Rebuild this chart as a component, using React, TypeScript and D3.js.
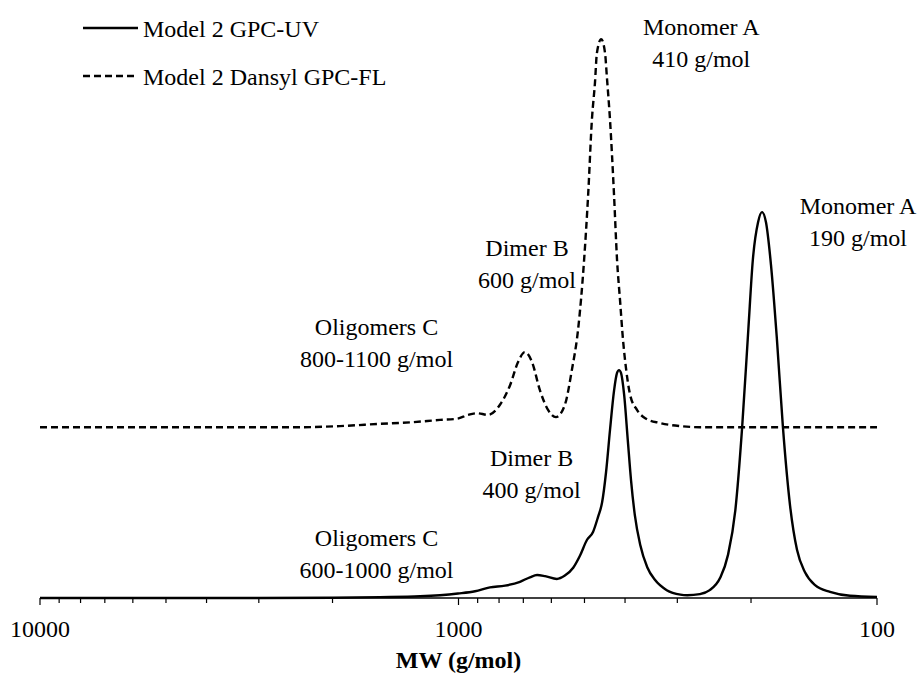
import * as d3 from "d3";

// GPC traces: molecular weight (g/mol) and relative signal
const uvMW = [
  10000, 5000, 3000, 2000, 1540, 1236, 1107, 1003, 913, 841, 774, 713, 675, 649, 621, 582, 557, 532,
  513, 493, 477, 464, 454, 444, 434.5, 425, 418, 413.5, 409, 402, 394, 387, 379, 368, 354, 339, 318,
  295, 284, 265, 251, 237, 227, 218, 210, 203, 198, 192.4, 188.3, 184.2, 179.2, 173.4, 167.8, 161.4,
  155.3, 148.6, 140.6, 129.5, 116, 100,
];
const uvSignal = [
  0, 0, 0, 0.05, 0.15, 0.3, 0.5, 0.8, 1.2, 1.9, 2.2, 2.9, 3.7, 4.1, 3.9, 3.4, 4.0, 5.4,
  7.5, 10.4, 11.8, 14.5, 17, 22.5, 30, 37, 40.2, 40.7, 40.2, 36.3, 28.2, 21, 14.8, 9.5, 5.5, 3.2, 1.4,
  0.6, 0.5, 0.7, 1.4, 3.6, 7.7, 15.7, 30.5, 47.9, 60.4, 67.1, 68.9, 67.1, 59.5, 46.1, 30.5, 16.6,
  8.6, 4.6, 2.3, 1.1, 0.4, 0.2,
];

const flMW = [
  10000, 5000, 2391, 1920, 1540, 1284, 1107, 1008, 949, 903, 850, 796, 753, 721, 694, 667, 639, 611,
  585, 557, 536, 518, 501, 490, 480, 472, 467, 456, 446.5, 442, 434.5, 425, 418, 411, 404.5, 400, 389,
  374.6, 358, 330, 296, 265, 100,
];
const flSignal = [
  30.5, 30.5, 30.5, 30.7, 31.1, 31.4, 31.8, 32.0, 32.7, 33.0, 32.7, 34.5, 38.0, 42.1, 43.9, 42.1, 37.1, 33.6,
  32.3, 34.5, 40.7, 47.9, 60.4, 72, 85.4, 92, 97.3, 99.8, 97.3, 93, 85.4, 72, 60.4, 53, 46.1, 42.5, 36.3,
  33.6, 32.1, 31.25, 30.7, 30.5, 30.5,
];

const tickLabels = [10000, 1000, 100];
const legendLabels = ["Model 2 GPC-UV", "Model 2 Dansyl GPC-FL"];

// annotation text with the MW it sits over and its signal height
const notes = [
  { mw: 263, sig: 100.5, lines: ["Monomer A", "410 g/mol"] },
  { mw: 111, sig: 68.5, lines: ["Monomer A", "190 g/mol"] },
  { mw: 686, sig: 61, lines: ["Dimer B", "600 g/mol"] },
  { mw: 1570, sig: 47, lines: ["Oligomers C", "800-1100 g/mol"] },
  { mw: 669, sig: 23.5, lines: ["Dimer B", "400 g/mol"] },
  { mw: 1570, sig: 9.3, lines: ["Oligomers C", "600-1000 g/mol"] },
];

const W = 923;
const H = 677;
const font = "'Liberation Serif', 'Times New Roman', serif";

export default function App() {
  const x = d3.scaleLog().domain([10000, 100]).range([40, 877]);
  const y = d3.scaleLinear().domain([0, 100]).range([598, 38]);

  const uv = uvMW.map((m, i) => ({ m, s: uvSignal[i] }));
  const fl = flMW.map((m, i) => ({ m, s: flSignal[i] }));

  const line = d3
    .line<{ m: number; s: number }>()
    .curve(d3.curveMonotoneX)
    .x((d) => x(d.m))
    .y((d) => y(d.s));

  const ticks = x.ticks();
  const y0 = y(0);

  return (
    <svg
      width={W}
      height={H}
      style={{ position: "absolute", left: 0, top: 0, background: "#fff" }}
      fontFamily={font}
    >
      <path d={line(fl) ?? ""} fill="none" stroke="#000" strokeWidth={2.4} strokeDasharray="7,4" />
      <path d={line(uv) ?? ""} fill="none" stroke="#000" strokeWidth={2.4} />

      {/* x axis */}
      <line x1={x(10000)} x2={x(100)} y1={y0} y2={y0} stroke="#000" strokeWidth={1.5} />
      {ticks.map((t) => {
        const major = tickLabels.includes(t);
        return (
          <line
            key={t}
            x1={x(t)}
            x2={x(t)}
            y1={y0}
            y2={y0 + (major ? 7 : 5)}
            stroke="#000"
            strokeWidth={1.2}
          />
        );
      })}
      {tickLabels.map((t) => (
        <text key={t} x={x(t)} y={y0 + 39} textAnchor="middle" fontSize={24}>
          {t}
        </text>
      ))}
      <text x={x(1000)} y={y0 + 70} textAnchor="middle" fontSize={24} fontWeight="bold">
        MW (g/mol)
      </text>

      {/* legend */}
      <line x1={83} x2={138} y1={28} y2={28} stroke="#000" strokeWidth={2.4} />
      <text x={143} y={37} fontSize={24}>
        {legendLabels[0]}
      </text>
      <line x1={83} x2={138} y1={76} y2={76} stroke="#000" strokeWidth={2.4} strokeDasharray="7,4" />
      <text x={143} y={85} fontSize={24}>
        {legendLabels[1]}
      </text>

      {notes.map((n, i) => (
        <text key={i} x={x(n.mw)} y={y(n.sig)} textAnchor="middle" fontSize={24}>
          {n.lines.map((l, j) => (
            <tspan key={j} x={x(n.mw)} dy={j === 0 ? 0 : 32}>
              {l}
            </tspan>
          ))}
        </text>
      ))}
    </svg>
  );
}
